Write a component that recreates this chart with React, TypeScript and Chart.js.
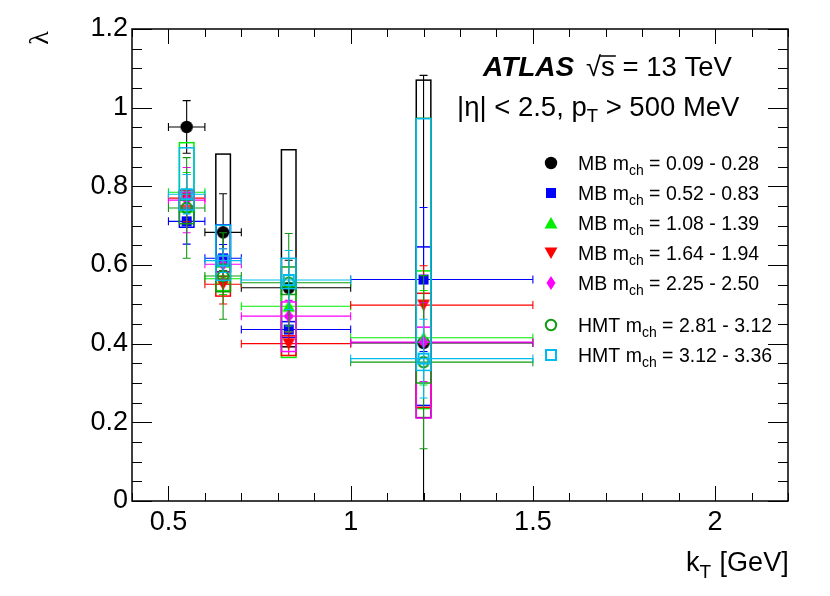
import React, { useEffect, useRef } from 'react';
import { Chart, registerables } from 'chart.js';

Chart.register(...registerables);

// kT bins [GeV]: mean value and bin edges
const kTMean = [0.55, 0.65, 0.83, 1.2];
const kTLow = [0.5, 0.6, 0.7, 1.0];
const kTHigh = [0.6, 0.7, 1.0, 1.5];

// lambda, stat error, systematic up/down for each m_ch interval
const lambdaMB1 = [0.951, 0.683, 0.542, 0.402];
const statMB1 = [0.067, 0.098, 0.07, 0.68];
const sysUpMB1 = [0, 0.199, 0.351, 0.668];
const sysDownMB1 = [0, 0.1, 0.15, 0.19];

const lambdaMB2 = [0.711, 0.617, 0.436, 0.563];
const statMB2 = [0.058, 0.035, 0.03, 0.183];
const sysUpMB2 = [0.03, 0.085, 0.02, 0.083];
const sysDownMB2 = [0.015, 0.02, 0.02, 0.32];

const lambdaMB3 = [0.785, 0.565, 0.495, 0.415];
const statMB3 = [0.05, 0.04, 0.05, 0.12];
const sysUpMB3 = [0.126, 0.03, 0.05, 0.17];
const sysDownMB3 = [0.05, 0.03, 0.13, 0.18];

const lambdaMB4 = [0.77, 0.551, 0.4, 0.498];
const statMB4 = [0.06, 0.05, 0.03, 0.1];
const sysUpMB4 = [0.02, 0.02, 0.02, 0.03];
const sysDownMB4 = [0.02, 0.03, 0.03, 0.26];

const lambdaMB5 = [0.765, 0.602, 0.47, 0.404];
const statMB5 = [0.083, 0.04, 0.04, 0.1];
const sysUpMB5 = [0.02, 0.02, 0.036, 0.038];
const sysDownMB5 = [0.02, 0.02, 0.09, 0.193];

const lambdaHMT1 = [0.745, 0.572, 0.555, 0.353];
const statHMT1 = [0.128, 0.11, 0.125, 0.22];
const sysUpHMT1 = [0.02, 0.03, 0.04, 0.62];
const sysDownHMT1 = [0.04, 0.04, 0.03, 0.053];

const lambdaHMT2 = [0.78, 0.611, 0.562, 0.362];
const statHMT2 = [0.05, 0.03, 0.075, 0.1];
const sysUpHMT2 = [0.118, 0.09, 0.055, 0.61];
const sysDownHMT2 = [0.04, 0.05, 0.022, 0.03];

const seriesPrefix = ['MB', 'MB', 'MB', 'MB', 'MB', 'HMT', 'HMT'];
const seriesRange = ['0.09 - 0.28', '0.52 - 0.83', '1.08 - 1.39', '1.64 - 1.94', '2.25 - 2.50', '2.81 - 3.12', '3.12 - 3.36'];

const xTickValues = [0.5, 1, 1.5, 2];
const xTickLabels = ['0.5', '1', '1.5', '2'];
const yTickValues = [0, 0.2, 0.4, 0.6, 0.8, 1, 1.2];
const yTickLabels = ['0', '0.2', '0.4', '0.6', '0.8', '1', '1.2'];

const series = [
  { lambda: lambdaMB1, stat: statMB1, sysUp: sysUpMB1, sysDown: sysDownMB1 },
  { lambda: lambdaMB2, stat: statMB2, sysUp: sysUpMB2, sysDown: sysDownMB2 },
  { lambda: lambdaMB3, stat: statMB3, sysUp: sysUpMB3, sysDown: sysDownMB3 },
  { lambda: lambdaMB4, stat: statMB4, sysUp: sysUpMB4, sysDown: sysDownMB4 },
  { lambda: lambdaMB5, stat: statMB5, sysUp: sysUpMB5, sysDown: sysDownMB5 },
  { lambda: lambdaHMT1, stat: statHMT1, sysUp: sysUpHMT1, sysDown: sysDownHMT1 },
  { lambda: lambdaHMT2, stat: statHMT2, sysUp: sysUpHMT2, sysDown: sysDownHMT2 },
];

// styles
const colors = ['#000000', '#0000ff', '#00ee00', '#ff0000', '#ff00ff', '#119911', '#00bbee'];
const markers = ['circle', 'square', 'triangleUp', 'triangleDown', 'diamond', 'openCircle', 'openSquare'];
const SANS = "'Liberation Sans', Arial, Helvetica, sans-serif";
const sysHalfWidth = 0.02; // box half width in kT

function makeMarker(kind: string, color: string): HTMLCanvasElement {
  const c = document.createElement('canvas');
  c.width = 16;
  c.height = 16;
  const g = c.getContext('2d')!;
  const m = 8;
  g.fillStyle = color;
  g.strokeStyle = color;
  g.lineWidth = 2;
  g.beginPath();
  switch (kind) {
    case 'circle':
      g.arc(m, m, 6.2, 0, Math.PI * 2);
      g.fill();
      break;
    case 'square':
      g.rect(3, 3, 10, 10);
      g.fill();
      break;
    case 'triangleUp':
      g.moveTo(m, 2);
      g.lineTo(m + 6.5, 13.5);
      g.lineTo(m - 6.5, 13.5);
      g.closePath();
      g.fill();
      break;
    case 'triangleDown':
      g.moveTo(m, 14);
      g.lineTo(m + 6.5, 2.5);
      g.lineTo(m - 6.5, 2.5);
      g.closePath();
      g.fill();
      break;
    case 'diamond':
      g.moveTo(m, 1);
      g.lineTo(m + 4.5, m);
      g.lineTo(m, 15);
      g.lineTo(m - 4.5, m);
      g.closePath();
      g.fill();
      break;
    case 'openCircle':
      g.arc(m, m, 5.2, 0, Math.PI * 2);
      g.stroke();
      break;
    case 'openSquare':
      g.rect(3, 3, 10, 10);
      g.stroke();
      break;
  }
  return c;
}

// sys box + stat error bars of one series, drawn just before its markers
const errorBoxPlugin = {
  id: 'errorBoxes',
  beforeDatasetDraw(chart: any, args: any) {
    const { ctx, chartArea: a, scales } = chart;
    const x = scales.x;
    const y = scales.y;
    const si = args.index;
    const s = series[si];
    ctx.save();
    ctx.beginPath();
    ctx.rect(a.left, a.top, a.right - a.left, a.bottom - a.top);
    ctx.clip();
    ctx.strokeStyle = colors[si];
    ctx.lineWidth = 1.5;
    s.lambda.forEach((v, i) => {
      if (s.sysUp[i] + s.sysDown[i] <= 0) return;
      const xl = x.getPixelForValue(kTMean[i] - sysHalfWidth);
      const xr = x.getPixelForValue(kTMean[i] + sysHalfWidth);
      const yt = y.getPixelForValue(v + s.sysUp[i]);
      const yb = y.getPixelForValue(v - s.sysDown[i]);
      ctx.strokeRect(xl, yt, xr - xl, yb - yt);
    });
    ctx.lineWidth = 1.1;
    s.lambda.forEach((v, i) => {
      const px = x.getPixelForValue(kTMean[i]);
      const py = y.getPixelForValue(v);
      const x0 = x.getPixelForValue(kTLow[i]);
      const x1 = x.getPixelForValue(kTHigh[i]);
      const y0 = y.getPixelForValue(v + s.stat[i]);
      const y1 = y.getPixelForValue(v - s.stat[i]);
      ctx.beginPath();
      ctx.moveTo(x0, py);
      ctx.lineTo(x1, py);
      ctx.moveTo(x0, py - 4);
      ctx.lineTo(x0, py + 4);
      ctx.moveTo(x1, py - 4);
      ctx.lineTo(x1, py + 4);
      ctx.moveTo(px, y0);
      ctx.lineTo(px, y1);
      ctx.moveTo(px - 4, y0);
      ctx.lineTo(px + 4, y0);
      ctx.moveTo(px - 4, y1);
      ctx.lineTo(px + 4, y1);
      ctx.stroke();
    });
    ctx.restore();
  },
};

const framePlugin = {
  id: 'rootFrame',
  afterDraw(chart: any) {
    const { ctx, chartArea: a, scales } = chart;
    const x = scales.x;
    const y = scales.y;
    ctx.save();
    ctx.strokeStyle = '#000';
    ctx.lineWidth = 1;
    ctx.beginPath();
    // x ticks: minor every 0.1, major at labels
    for (let k = 4; k <= 22; k++) {
      const px = Math.round(x.getPixelForValue(k / 10)) + 0.5;
      const len = k % 5 === 0 ? 15 : 8;
      ctx.moveTo(px, a.bottom);
      ctx.lineTo(px, a.bottom - len);
      ctx.moveTo(px, a.top);
      ctx.lineTo(px, a.top + len);
    }
    // y ticks: minor every 0.05, major every 0.2
    for (let k = 0; k <= 24; k++) {
      const py = Math.round(y.getPixelForValue(k * 0.05)) + 0.5;
      const len = k % 4 === 0 ? 20 : 10;
      ctx.moveTo(a.left, py);
      ctx.lineTo(a.left + len, py);
      ctx.moveTo(a.right, py);
      ctx.lineTo(a.right - len, py);
    }
    ctx.stroke();
    ctx.lineWidth = 1.5;
    ctx.strokeRect(a.left, a.top, a.right - a.left, a.bottom - a.top);

    ctx.fillStyle = '#000';
    ctx.textBaseline = 'alphabetic';
    ctx.textAlign = 'left';

    // ATLAS label
    ctx.font = `italic bold 28px ${SANS}`;
    ctx.fillText('ATLAS', 483, 76);
    ctx.font = `27.5px ${SANS}`;
    let tx = 586;
    ctx.fillText('\u221A', tx, 76);
    tx += ctx.measureText('\u221A').width;
    ctx.fillText('s', tx, 76);
    const sW = ctx.measureText('s').width;
    ctx.beginPath();
    ctx.lineWidth = 1.5;
    ctx.moveTo(tx - 1, 56);
    ctx.lineTo(tx + sW + 1, 56);
    ctx.stroke();
    tx += sW;
    ctx.fillText(' = 13 TeV', tx, 76);

    const line2a = '|\u03B7| < 2.5, p';
    ctx.fillText(line2a, 457, 116);
    tx = 457 + ctx.measureText(line2a).width;
    ctx.font = `18.5px ${SANS}`;
    ctx.fillText('T', tx, 122);
    tx += ctx.measureText('T').width;
    ctx.font = `27.5px ${SANS}`;
    ctx.fillText(' > 500 MeV', tx, 116);

    // legend
    const rowY = [163, 193, 223, 253, 283, 325, 355];
    series.forEach((_, si) => {
      const ry = rowY[si];
      const mk = chart.data.datasets[si].pointStyle as HTMLCanvasElement;
      ctx.drawImage(mk, 551 - mk.width / 2, ry - mk.height / 2);
      ctx.font = `19.5px ${SANS}`;
      const a1 = `${seriesPrefix[si]} m`;
      ctx.fillText(a1, 578, ry + 7);
      let cx = 578 + ctx.measureText(a1).width;
      ctx.font = `14px ${SANS}`;
      ctx.fillText('ch', cx, ry + 12);
      cx += ctx.measureText('ch').width;
      ctx.font = `19.5px ${SANS}`;
      ctx.fillText(` = ${seriesRange[si]}`, cx, ry + 7);
    });

    // axis titles
    ctx.font = `27px ${SANS}`;
    tx = 686;
    ctx.fillText('k', tx, 571);
    tx += ctx.measureText('k').width;
    ctx.font = `19px ${SANS}`;
    ctx.fillText('T', tx, 578);
    tx += ctx.measureText('T').width;
    ctx.font = `27px ${SANS}`;
    ctx.fillText(' [GeV]', tx + 1, 571);

    ctx.translate(41, 38);
    ctx.rotate(-Math.PI / 2);
    ctx.textAlign = 'center';
    ctx.textBaseline = 'middle';
    ctx.font = "28px 'Liberation Serif', 'DejaVu Serif', serif";
    ctx.fillText('\u03BB', 0, 0);
    ctx.restore();
  },
};

const App: React.FC = () => {
  const canvasRef = useRef<HTMLCanvasElement>(null);

  useEffect(() => {
    if (!canvasRef.current) return;
    const datasets = series.map((s, si) => ({
      label: `${seriesPrefix[si]} ${seriesRange[si]}`,
      data: kTMean.map((k, i) => ({ x: k, y: s.lambda[i] })),
      pointStyle: makeMarker(markers[si], colors[si]),
      pointRadius: 7,
      showLine: false,
      order: series.length - si, // first series drawn at the bottom
    }));
    const chart = new Chart(canvasRef.current, {
      type: 'scatter',
      data: { datasets },
      plugins: [errorBoxPlugin, framePlugin],
      options: {
        animation: false,
        responsive: false,
        events: [],
        layout: { padding: { top: 29, right: 42, left: 0, bottom: 0 } },
        plugins: { legend: { display: false }, tooltip: { enabled: false } },
        scales: {
          x: {
            type: 'linear',
            min: 0.4,
            max: 2.2,
            grid: { display: false, drawTicks: false },
            border: { display: false },
            afterBuildTicks: (scale: any) => {
              scale.ticks = xTickValues.map((v) => ({ value: v }));
            },
            afterFit: (scale: any) => {
              scale.height = 95;
            },
            ticks: {
              autoSkip: false,
              maxRotation: 0,
              padding: 5,
              color: '#000',
              font: { family: SANS, size: 27 },
              callback: (_v: any, i: number) => xTickLabels[i],
            },
          },
          y: {
            type: 'linear',
            min: 0,
            max: 1.2,
            grid: { display: false, drawTicks: false },
            border: { display: false },
            afterBuildTicks: (scale: any) => {
              scale.ticks = yTickValues.map((v) => ({ value: v }));
            },
            afterFit: (scale: any) => {
              scale.width = 132;
            },
            ticks: {
              autoSkip: false,
              padding: 4,
              color: '#000',
              font: { family: SANS, size: 27 },
              callback: (_v: any, i: number) => yTickLabels[i],
            },
          },
        },
      },
    });
    return () => chart.destroy();
  }, []);

  return (
    <div style={{ position: 'fixed', left: 0, top: 0, width: 830, height: 596, background: '#fff' }}>
      <canvas ref={canvasRef} width={830} height={596} />
    </div>
  );
};

export default App;
